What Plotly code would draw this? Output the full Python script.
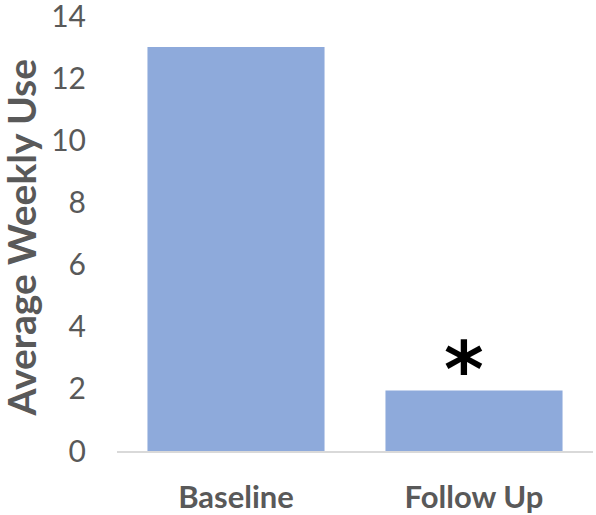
import plotly.graph_objects as go

categories = ["Baseline", "Follow Up"]
values = [13.0, 1.95]
y_ticks = [0, 2, 4, 6, 8, 10, 12, 14]
significance = ["", "*"]
y_title = "Average Weekly Use"

fig = go.Figure()
fig.add_trace(go.Bar(
    x=categories, y=values,
    marker=dict(color="#8eaadb", line=dict(width=0)),
    width=0.744,
    showlegend=False,
))

for c, v, s in zip(categories, values, significance):
    if s:
        fig.add_annotation(x=c, y=v, text="<b>" + s + "</b>", showarrow=False,
                           yanchor="middle", yshift=21, xshift=-10,
                           font=dict(family="DejaVu Sans", size=76, color="#000000"))

fig.add_annotation(xref="paper", yref="paper", x=0, y=0.5,
                   xanchor="center", yanchor="middle", xshift=-97, yshift=-4,
                   textangle=-90, showarrow=False,
                   text="<b>" + y_title + "</b>",
                   font=dict(family="Lato", size=39, color="#595959"))

fig.update_layout(
    width=596, height=515,
    margin=dict(l=117, r=3, t=16, b=64, autoexpand=False),
    paper_bgcolor="white", plot_bgcolor="white",
    font=dict(family="Lato", color="#595959"),
    xaxis=dict(
        automargin=False,
        showline=True, linecolor="#d9d9d9", linewidth=1.5,
        showgrid=False, zeroline=False,
        tickfont=dict(family="Lato", size=31, color="#595959", weight="bold"),
        ticklabelstandoff=18,
    ),
    yaxis=dict(
        automargin=False,
        range=[0, 14], tickvals=y_ticks,
        showgrid=False, zeroline=False, showline=False,
        ticklabeloverflow="allow",
        tickfont=dict(family="Lato", size=30, color="#595959"),
        ticklabelstandoff=30,
    ),
)

fig.write_html("out.html",
               config={"displayModeBar": False},
               post_script="document.body.style.margin='0';document.body.style.overflow='hidden';")
